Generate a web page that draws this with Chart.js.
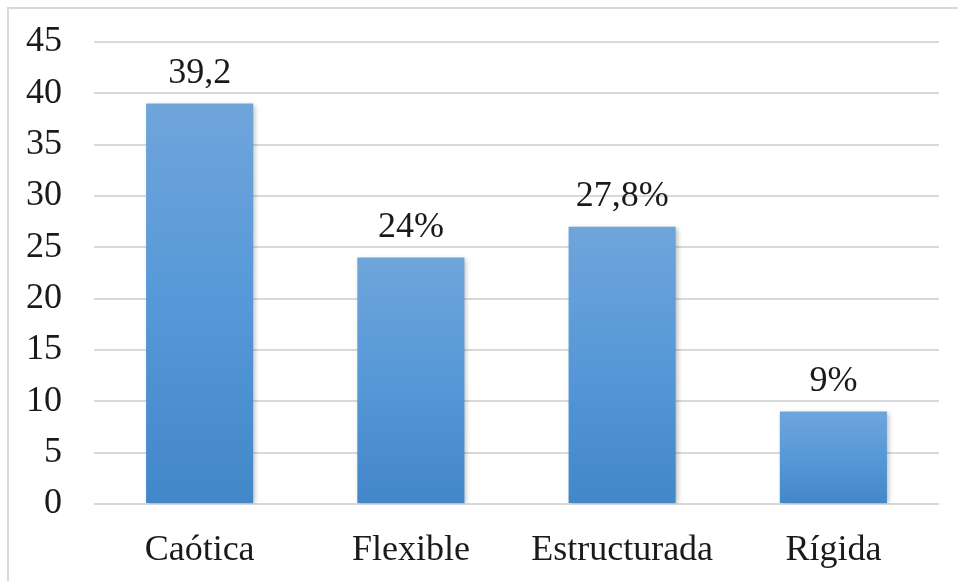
<!DOCTYPE html>
<html>
<head>
<meta charset="utf-8">
<script src="https://cdn.jsdelivr.net/npm/chart.js@4"></script>
<style>
  html, body { margin: 0; padding: 0; background: #ffffff; }
  #wrap { position: relative; width: 958px; height: 581px; overflow: hidden; }
  #frame { position: absolute; left: 7px; top: 7px; width: 960px; height: 590px;
           border-left: 2px solid #d9d9d9; border-top: 2px solid #d9d9d9; box-sizing: border-box; pointer-events: none; }
  canvas { position: absolute; left: 0; top: 0; }
  .probe { font-family: "Liberation Serif", "DejaVu Serif", serif; position: absolute; left: -9999px; }
</style>
</head>
<body>
<div id="wrap">
  <canvas id="c" width="958" height="581"></canvas>
  <div id="frame"></div>
</div>
<span class="probe">Caótica 0123456789,%</span>
<script>
const categories = ["Caótica", "Flexible", "Estructurada", "Rígida"];
const values = [39, 24, 27, 9];
const valueLabels = ["39,2", "24%", "27,8%", "9%"];
const yTicks = [0, 5, 10, 15, 20, 25, 30, 35, 40, 45];

const FONT = '"Liberation Serif", "DejaVu Serif", serif';

function barFill(ctx) {
  const chart = ctx.chart;
  const y = chart.scales && chart.scales.y;
  if (!chart.chartArea || !y || ctx.type !== 'data') return '#5596d6';
  const top = y.getPixelForValue(ctx.parsed ? ctx.parsed.y : values[ctx.dataIndex]);
  const bottom = y.getPixelForValue(0);
  if (!isFinite(top) || !isFinite(bottom) || top === bottom) return '#5596d6';
  const g = chart.ctx.createLinearGradient(0, top, 0, bottom);
  g.addColorStop(0, '#6fa5db');
  g.addColorStop(0.5, '#5698d8');
  g.addColorStop(1, '#4287c8');
  return g;
}

const shadowPlugin = {
  id: 'barShadow',
  beforeDatasetsDraw(chart) {
    const c = chart.ctx;
    c.save();
    c.shadowColor = 'rgba(0,0,0,0.28)';
    c.shadowBlur = 5;
    c.shadowOffsetX = 2;
    c.shadowOffsetY = 1;
  },
  afterDatasetsDraw(chart) {
    chart.ctx.restore();
  }
};

const labelPlugin = {
  id: 'valueLabels',
  afterDatasetsDraw(chart) {
    const c = chart.ctx;
    const meta = chart.getDatasetMeta(0);
    c.save();
    c.font = '36px ' + FONT;
    c.fillStyle = '#1a1a1a';
    c.textAlign = 'center';
    c.textBaseline = 'alphabetic';
    meta.data.forEach((bar, i) => {
      c.fillText(valueLabels[i], bar.x, bar.y - 21);
    });
    c.restore();
  }
};

function build() {
  new Chart(document.getElementById('c'), {
    type: 'bar',
    data: {
      labels: categories,
      datasets: [{
        data: values,
        backgroundColor: barFill,
        borderWidth: 0,
        categoryPercentage: 1.0,
        barPercentage: 0.507
      }]
    },
    options: {
      responsive: false,
      animation: false,
      devicePixelRatio: 1,
      layout: { padding: { top: 42, right: 19, bottom: 12, left: 0 } },
      plugins: { legend: { display: false }, tooltip: { enabled: false } },
      scales: {
        x: {
          grid: { display: false },
          border: { display: false },
          afterFit(scale) { scale.height = 65; },
          ticks: { color: '#1a1a1a', font: { family: FONT, size: 36 }, padding: 17, maxRotation: 0 }
        },
        y: {
          min: 0, max: 45,
          afterBuildTicks(scale) { scale.ticks = yTicks.map(v => ({ value: v })); },
          afterFit(scale) { scale.width = 94; },
          grid: { color: '#d9d9d9', lineWidth: 2, drawTicks: true, tickLength: 32, tickColor: 'rgba(0,0,0,0)' },
          border: { display: false },
          ticks: { color: '#1a1a1a', font: { family: FONT, size: 36 }, padding: 0 }
        }
      }
    },
    plugins: [shadowPlugin, labelPlugin]
  });
}

let built = false;
function go() { if (!built) { built = true; build(); } }
if (document.fonts && document.fonts.load) {
  document.fonts.load('36px "Liberation Serif"').then(go, go);
  setTimeout(go, 1500);
} else {
  go();
}
</script>
</body>
</html>
